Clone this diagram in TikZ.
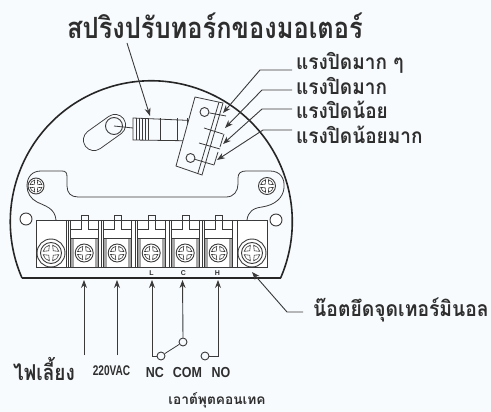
\documentclass[tikz,border=0pt]{standalone}
\usepackage{fontspec}
\setmainfont{Liberation Sans}
\newfontfamily\thaifont[Script=Thai]{Loma}
\usetikzlibrary{arrows.meta}
\definecolor{ink}{HTML}{3A3A3A}
\definecolor{txt}{HTML}{2E2E2E}
\definecolor{bg}{HTML}{F8FBFE}
\tikzset{
  thin line/.style={draw=ink,line width=0.8pt},
  leader/.style={draw=ink,line width=0.9pt,-{Stealth[length=8pt,width=6pt]}},
  thai/.style={text=txt,inner sep=0pt,font=\thaifont\bfseries},
  latin/.style={text=txt,inner sep=0pt,font=\bfseries},
  hole/.style={draw=ink,line width=0.9pt,fill=white,circle,minimum size=#1,inner sep=0pt},
  forcelabel/.style={thai,anchor=west,yscale=1.1,font=\thaifont\bfseries\fontsize{19}{20}\selectfont},
}
\newcommand{\crossmark}[2]{%
  \draw[ink,line width=0.9pt,fill=white] (#1) circle (#2);
  \begin{scope}[shift={(#1)}]
    \draw[ink,line width=0.6pt,fill=white] (45:0.3*#2) -- (12:0.76*#2) arc (12:78:0.76*#2) -- cycle;
    \draw[ink,line width=0.6pt,fill=white] (135:0.3*#2) -- (102:0.76*#2) arc (102:168:0.76*#2) -- cycle;
    \draw[ink,line width=0.6pt,fill=white] (225:0.3*#2) -- (192:0.76*#2) arc (192:258:0.76*#2) -- cycle;
    \draw[ink,line width=0.6pt,fill=white] (315:0.3*#2) -- (282:0.76*#2) arc (282:348:0.76*#2) -- cycle;
  \end{scope}}
\newcommand{\terminal}[2]{%
  \begin{scope}[shift={(#1,0)}]
    \fill[gray!70] (0,238) rectangle (4,267);
    \fill[gray!70] (24.5,238) rectangle (28.5,267);
    \draw[thin line] (-2,220) -- (-2,267);
    \draw[thin line] (0,220) -- (0,267);
    \draw[thin line] (0,229) -- (11,229) -- (11,215) -- (18,215) -- (18,229) -- (28.5,229) (0,220) -- (11,220) (18,220) -- (28.5,220);
    \draw[thin line] (28.5,220) -- (28.5,267);
    \draw[thin line] (0,238) -- (28.5,238);
    \crossmark{14.2,253}{#2}
  \end{scope}}
\begin{document}
\begin{tikzpicture}[x=1pt,y=-1pt]
\useasboundingbox (0,0) rectangle (491,412);
\fill[bg] (0,0) rectangle (491,412);

% housing
\draw[draw=black!85,line width=1.6pt] (22,278) arc[start angle=156.5,end angle=383.5,radius=141];
\draw[draw=black!85,line width=1.8pt] (22,278) -- (281,278);

% inner plate
\draw[thin line] (56,220) .. controls (55,208) and (45,206) .. (37,202) .. controls (31,199) and (27,193) .. (27,186) .. controls (27,177) and (32,171) .. (41,171) -- (62,171) .. controls (66,171) and (67,173) .. (67,177) -- (67,186) .. controls (67,193) and (71,197) .. (78,197) -- (226,197) .. controls (234,197) and (238,191) .. (238,184) -- (238,178) .. controls (238,173) and (241,171) .. (246,171) -- (270,171) .. controls (280,171) and (285,178) .. (284,188) .. controls (283,198) and (275,205) .. (262,207) .. controls (253,208) and (248,212) .. (247,220);
\crossmark{36,186}{8}
\crossmark{267,186}{8.5}
\node[hole=12pt] (holeL) at (26,219) {};
\node[hole=12pt] (holeR) at (276,220) {};

% terminal block
\draw[thin line,fill=white] (36,220) rectangle (267,267);
\draw[thin line] (66,220) -- (66,267);
\draw[thin line] (237,220) -- (237,267);
\terminal{70}{9}
\terminal{103}{9}
\terminal{137}{9}
\terminal{171}{9}
\terminal{204}{9}
\draw[ink,line width=0.9pt] (51,253) circle (14);
\crossmark{51,253}{10.5}
\draw[ink,line width=0.9pt] (252,253) circle (14);
\crossmark{252,253}{10.5}
\node[latin,font=\bfseries\fontsize{7}{8}\selectfont] (tL) at (151.5,273) {L};
\node[latin,font=\bfseries\fontsize{7}{8}\selectfont] (tC) at (183.5,273) {C};
\node[latin,font=\bfseries\fontsize{7}{8}\selectfont] (tH) at (217.5,273) {H};

% motor spring
\draw[draw=ink,line width=22pt,line cap=round] (115,125) -- (94,140);
\draw[draw=bg,line width=20.2pt,line cap=round] (115,125) -- (94,140);
\node[hole=17pt,fill=bg] (cam) at (114,126) {};
\draw[thin line] (cam.center) -- (133,128);
\draw[thin line,fill=bg] (133,118) -- (203,121) -- (203,141) -- (133,140) -- cycle;
\foreach \xx in {136,139,142,145,148,160,177,187,190,193,196,199}{\draw[thin line] (\xx,118.5) -- (\xx,140.5);}

% adjusting bracket
\draw[thin line,fill=bg] (195,97) -- (223,103) -- (202,175) -- (176,166) -- cycle;
\draw[thin line] (219,102) -- (198,173);
\node[hole=9pt,fill=bg] (hA) at (204.5,112) {};
\node[hole=9pt,fill=bg] (hB) at (190.5,158) {};
\draw[thin line] (hA) -- (226,116);
\draw[thin line] (204,128) -- (223,134);
\draw[thin line] (199,143) -- (220,149);
\draw[thin line] (hB) -- (214,165);
\draw[thin line] (218,152) -- (214,165);
\draw[thin line] (224,134) -- (220,147);

% title and its arrow
\node[thai,yscale=1.15,font=\thaifont\bfseries\fontsize{25.4}{28}\selectfont] (title) at (215,26) {สปริงปรับทอร์กของมอเตอร์};
\coordinate (springTip) at (150,116);
\coordinate (titleFoot) at (127,43);
\draw[leader] (titleFoot) -- (springTip);

% force labels
\node[forcelabel] (f1) at (296,63) {แรงปิดมาก ๆ};
\node[forcelabel] (f2) at (296,86) {แรงปิดมาก};
\node[forcelabel] (f3) at (296,110) {แรงปิดน้อย};
\node[forcelabel] (f4) at (296,135) {แรงปิดน้อยมาก};
\coordinate (t1) at (223,113);
\coordinate (t2) at (225,128);
\coordinate (t3) at (223,144);
\coordinate (t4) at (217,160);
\draw[leader] (f1.west |- 0,70) ++(-4,0) -- (260,70) -- (t1);
\draw[leader] (f2.west |- 0,90) ++(-4,0) -- (262,90) -- (t2);
\draw[leader] (f3.west |- 0,109) ++(-4,0) -- (262,109) -- (t3);
\draw[leader] (f4.west |- 0,130) ++(-4,0) -- (263,130) -- (t4);

% screw label
\node[thai,anchor=west,yscale=1.1,font=\thaifont\bfseries\fontsize{19.3}{22}\selectfont] (screwlabel) at (313,310) {น๊อตยึดจุดเทอร์มินอล};
\coordinate (screwTip) at (252,272);
\draw[leader] (screwlabel.west |- 0,312) ++(-10,0) -- (287,312) -- (screwTip);

% wiring
\node[thai,yscale=1.15,font=\thaifont\bfseries\fontsize{19}{20}\selectfont] (power) at (44,369) {ไฟเลี้ยง};
\node[latin,font=\bfseries\fontsize{14}{16}\selectfont,xscale=0.72] (vac) at (111.5,371) {220VAC};
\node[latin,font=\bfseries\fontsize{14.5}{16}\selectfont,xscale=0.86] (nc) at (155,373) {NC};
\node[latin,font=\bfseries\fontsize{14.5}{16}\selectfont,xscale=0.86] (com) at (187.5,373) {COM};
\node[latin,font=\bfseries\fontsize{14.5}{16}\selectfont,xscale=0.86] (no) at (221,373) {NO};
\node[thai,font=\thaifont\bfseries\fontsize{13.7}{16}\selectfont] (contact) at (217,400) {เอาต์พุตคอนเทค};
\coordinate (a1) at (84,280);
\coordinate (a2) at (117,280);
\coordinate (a3) at (152,280);
\coordinate (a4) at (182.5,280);
\coordinate (a5) at (218,280);
\coordinate (w1) at (84,355);
\coordinate (w2) at (117,355);
\node[hole=8pt,fill=bg] (swNC) at (161,356) {};
\node[hole=8pt,fill=bg] (swCOM) at (183,342) {};
\node[hole=8pt,fill=bg] (swNO) at (205,356) {};
\draw[leader] (w1) -- (a1);
\draw[leader] (w2) -- (a2);
\draw[leader] (swNC.west) -| (a3);
\draw[leader] (swCOM.north) -- (a4);
\draw[leader] (swNO.east) -| (a5);
\draw[thin line] (swNC) -- (swCOM);
\end{tikzpicture}
\end{document}
